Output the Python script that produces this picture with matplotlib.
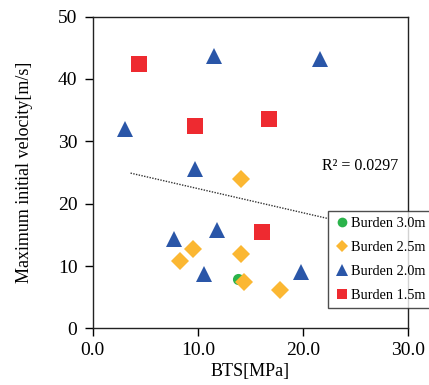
import numpy as np
import matplotlib
matplotlib.use("Agg")
import matplotlib.pyplot as plt

plt.rcParams['font.family'] = ['Liberation Serif', 'DejaVu Serif']

# Data
b30_x = [13.8]
b30_y = [7.9]
b25_x = [14.1, 9.5, 8.3, 14.1, 14.4, 17.8]
b25_y = [24.0, 12.7, 10.8, 12.0, 7.5, 6.2]
b20_x = [11.5, 21.6, 3.1, 9.7, 7.7, 11.8, 10.6, 19.8]
b20_y = [43.6, 43.2, 32.0, 25.6, 14.4, 15.7, 8.7, 9.1]
b15_x = [4.4, 9.7, 16.8, 16.1]
b15_y = [42.4, 32.4, 33.6, 15.5]

trend_x = [3.6, 22.4]
trend_y = [24.9, 17.6]
r2_text = "R² = 0.0297"

labels = ["Burden 3.0m", "Burden 2.5m", "Burden 2.0m", "Burden 1.5m"]
xticks = [0, 10, 20, 30]
xticklabels = ["0.0", "10.0", "20.0", "30.0"]
yticks = [0, 10, 20, 30, 40, 50]

fig = plt.figure(figsize=(4.29, 3.85), dpi=100)
ax = fig.add_axes([0.216, 0.147, 0.736, 0.810])

ax.plot(trend_x, trend_y, linestyle=(0, (1, 1)), color='#333333', linewidth=1.0, zorder=1)

ax.plot(b30_x, b30_y, 'o', color='#2BB34B', markersize=8, markeredgewidth=0, label=labels[0], zorder=2)
ax.plot(b25_x, b25_y, 'D', color='#FBB732', markersize=9, markeredgewidth=0, label=labels[1], zorder=3)
ax.plot(b20_x, b20_y, '^', color='#2A56A8', markersize=12, markeredgewidth=0, label=labels[2], zorder=3)
ax.plot(b15_x, b15_y, 's', color='#EE2A30', markersize=11, markeredgewidth=0, label=labels[3], zorder=3)

ax.text(25.4, 26.1, r2_text, fontsize=11.5, ha='center', va='center')

ax.set_xlim(0, 30)
ax.set_ylim(0, 50)
ax.set_xticks(xticks)
ax.set_xticklabels(xticklabels)
ax.set_yticks(yticks)
ax.tick_params(direction='out', length=6, labelsize=14, width=1)
ax.tick_params(axis='y', pad=5)
for s in ax.spines.values():
    s.set_linewidth(1.0)
    s.set_color('#222222')

ax.set_xlabel("BTS[MPa]", fontsize=13, labelpad=3)
ax.set_ylabel("Maximum initial velocity[m/s]", fontsize=13, labelpad=18)

leg = ax.legend(loc='upper left', bbox_to_anchor=(328/429, 1 - 211/385), bbox_transform=fig.transFigure,
                fontsize=10.3, frameon=True, fancybox=False, edgecolor='#222222',
                handlelength=1.0, handletextpad=0.15, borderpad=0.45, labelspacing=0.75,
                borderaxespad=0)
leg.get_frame().set_linewidth(1.0)
leg.set_zorder(5)
for h, ms in zip(leg.legend_handles, [7, 6.5, 8, 7]):
    h.set_markersize(ms)

fig.savefig("out.png", dpi=100)
